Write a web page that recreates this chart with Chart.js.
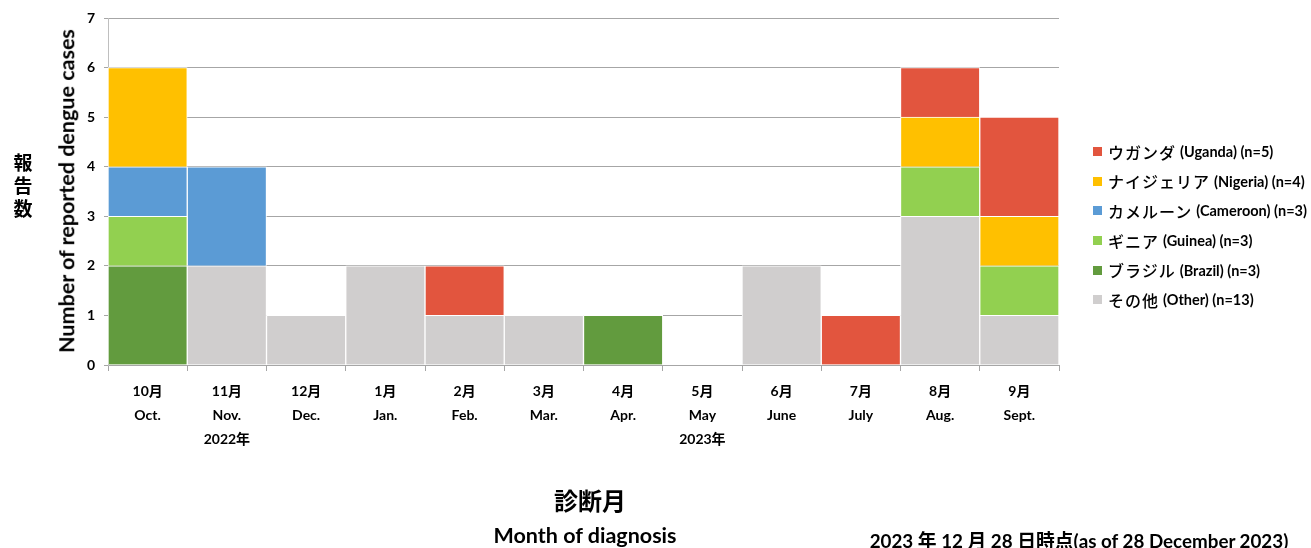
<!DOCTYPE html>
<html><head><meta charset="utf-8">
<script src="https://cdn.jsdelivr.net/npm/chart.js@4"></script>
<style>
html,body{margin:0;padding:0;background:#fff;}
#wrap{position:relative;width:1311px;height:548px;overflow:hidden;font-family:Lato,"Noto Sans CJK JP",sans-serif;color:#000;}
#c{position:absolute;left:0;top:0;}
.t{position:absolute;white-space:nowrap;font-weight:bold;line-height:1;}
#legend{position:absolute;left:1093px;top:137px;}
.li{height:29.6px;display:flex;align-items:center;font-size:14.5px;font-weight:bold;white-space:nowrap;}
.li .b{width:9px;height:9px;margin-right:6px;flex:none;}
.li .j{font-family:"Noto Sans CJK JP",sans-serif;font-weight:500;font-size:16px;letter-spacing:1px;margin-right:4px;}
</style></head>
<body><div id="wrap">
<canvas id="c" width="1311" height="548"></canvas>
<div class="t" style="left:12px;top:150px;width:22px;font-family:'Noto Sans CJK JP';font-size:19px;line-height:23px;text-align:center;">報<br>告<br>数</div>
<div class="t" style="left:67px;top:191px;font-size:21.5px;transform:translate(-50%,-50%) rotate(-90deg);">Number of reported dengue cases</div>
<div class="t" style="left:590px;top:500px;font-family:'Noto Sans CJK JP';font-size:24px;transform:translate(-50%,-50%);">診断月</div>
<div class="t" style="left:585px;top:536px;font-size:21.5px;transform:translate(-50%,-50%);">Month of diagnosis</div>
<div class="t" style="left:1079px;top:541px;font-size:18.8px;transform:translate(-50%,-50%);">2023 年 12 月 28 日時点(as of 28 December 2023)</div>
<div id="legend"></div>
</div>
<script>
const months = [["10月","Oct."],["11月","Nov.","2022年"],["12月","Dec."],["1月","Jan."],["2月","Feb."],["3月","Mar."],["4月","Apr."],["5月","May","2023年"],["6月","June"],["7月","July"],["8月","Aug."],["9月","Sept."]];
const uganda   = [0,0,0,0,1,0,0,0,0,1,1,2];
const nigeria  = [2,0,0,0,0,0,0,0,0,0,1,1];
const cameroon = [1,2,0,0,0,0,0,0,0,0,0,0];
const guinea   = [1,0,0,0,0,0,0,0,0,0,1,1];
const brazil   = [2,0,0,0,0,0,1,0,0,0,0,0];
const other    = [0,2,1,2,1,1,0,0,2,0,3,1];
const yTicks = [0,1,2,3,4,5,6,7];
const seriesNames = [
  ["その他","(Other) (n=13)"],
  ["ブラジル","(Brazil) (n=3)"],
  ["ギニア","(Guinea) (n=3)"],
  ["カメルーン","(Cameroon) (n=3)"],
  ["ナイジェリア","(Nigeria) (n=4)"],
  ["ウガンダ","(Uganda) (n=5)"]
];
const seriesData = [other, brazil, guinea, cameroon, nigeria, uganda];
const seriesColors = ["#D0CECE","#629B3E","#92D050","#5B9BD5","#FFC000","#E2553E"];

const datasets = seriesData.map((d,i)=>({
  label: seriesNames[i].join(" "),
  data: d,
  backgroundColor: seriesColors[i],
  borderColor: "#ffffff",
  borderWidth: 1,
  barPercentage: 1,
  categoryPercentage: 1
}));

const FONT = "Lato, 'Noto Sans CJK JP', sans-serif";
new Chart(document.getElementById('c'), {
  type: 'bar',
  data: { labels: months, datasets },
  options: {
    responsive: false,
    animation: false,
    layout: { padding: { top: 18, right: 252, left: 0, bottom: 0 } },
    plugins: { legend: { display: false }, tooltip: { enabled: false } },
    scales: {
      x: {
        stacked: true,
        grid: { drawOnChartArea: false, tickLength: 6, color: '#A6A6A6' },
        border: { color: '#A6A6A6' },
        ticks: { color: '#000', autoSkip: false, maxRotation: 0, padding: 8,
          font: { family: FONT, size: 14, weight: 'bold', lineHeight: 1.72 } },
        afterFit: s => { s.height = 548 - 365; }
      },
      y: {
        stacked: true, min: 0, max: 7,
        afterBuildTicks: s => { s.ticks = yTicks.map(v => ({ value: v })); },
        grid: { color: '#A6A6A6', tickLength: 4 },
        border: { color: '#BFBFBF' },
        ticks: { color: '#000', padding: 9, font: { family: FONT, size: 14, weight: 'bold' } },
        afterFit: s => { s.width = 108; }
      }
    }
  }
});

const leg = document.getElementById('legend');
for (let i = seriesNames.length - 1; i >= 0; i--) {
  const row = document.createElement('div'); row.className = 'li';
  row.innerHTML = '<span class="b" style="background:' + seriesColors[i] + '"></span><span class="j">' + seriesNames[i][0] + '</span><span>' + seriesNames[i][1] + '</span>';
  leg.appendChild(row);
}
</script>
</body></html>
